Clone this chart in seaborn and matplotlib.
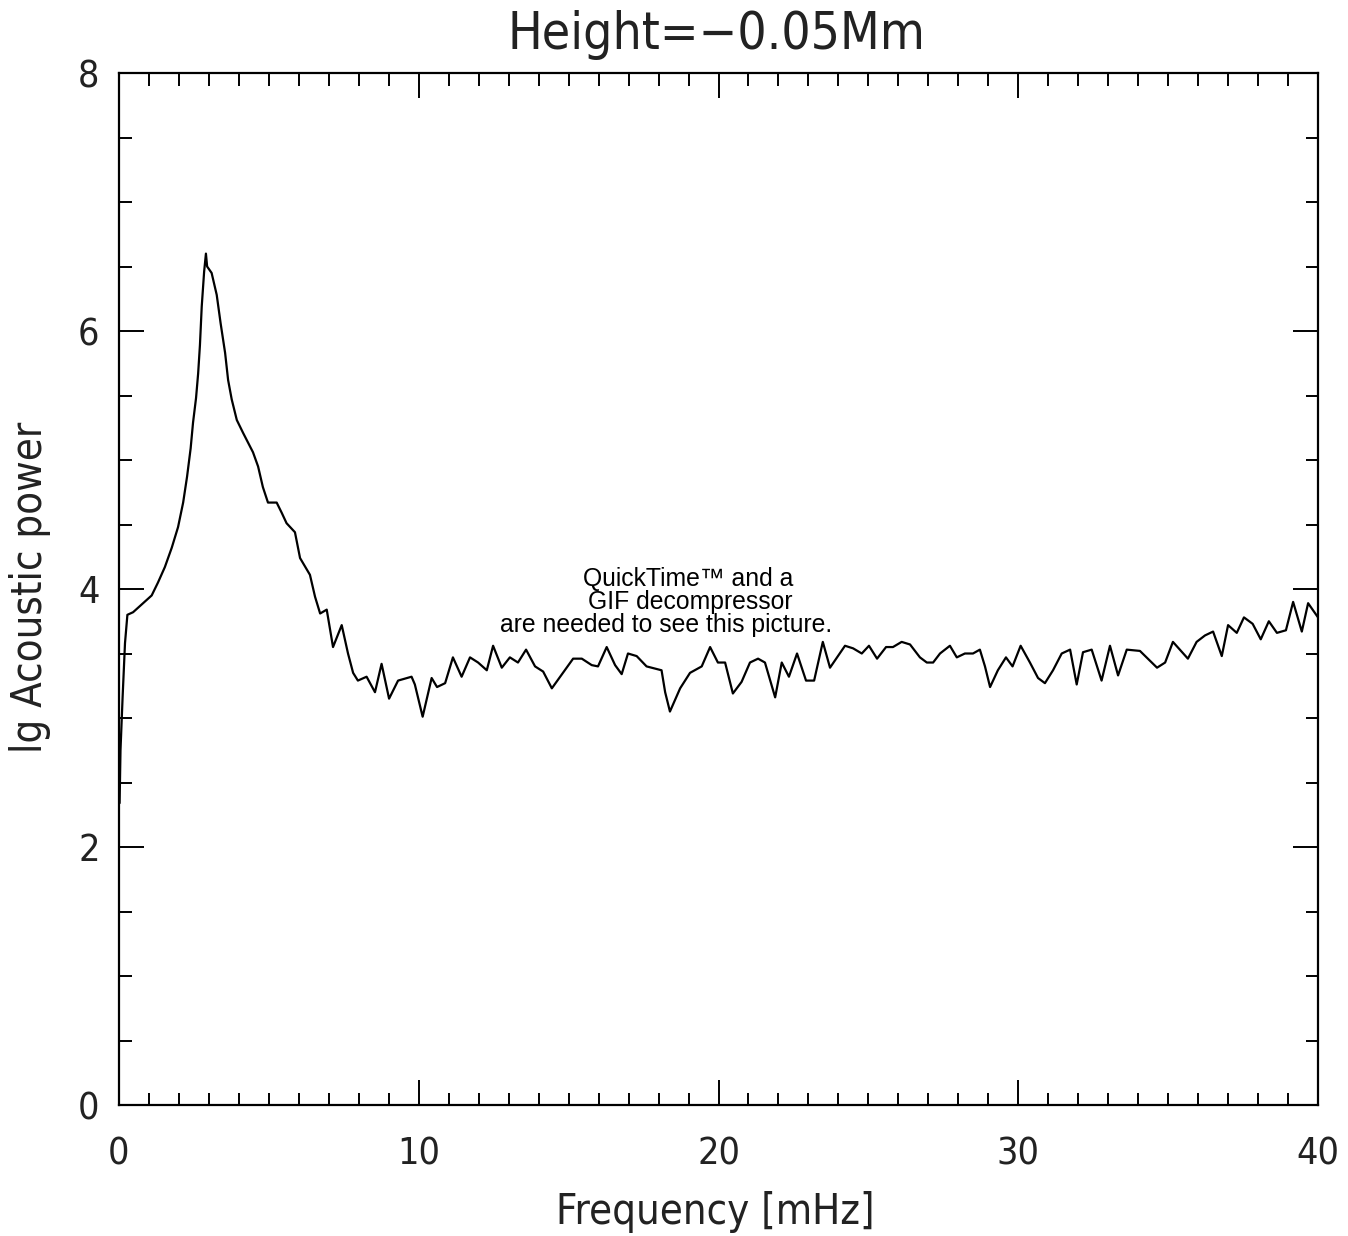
import matplotlib
matplotlib.use("Agg")
import matplotlib.pyplot as plt
import seaborn as sns
import pandas as pd
from matplotlib.ticker import MultipleLocator

# ---- data ----
freq_mhz = [0.02, 0.05, 0.12, 0.20, 0.28, 0.47, 1.09, 1.30, 1.53, 1.76, 1.97, 2.14, 2.27,
            2.39, 2.47, 2.57, 2.64, 2.70, 2.76, 2.84, 2.90, 2.94, 3.09, 3.26, 3.39, 3.54,
            3.64, 3.76, 3.93, 4.14, 4.47, 4.64, 4.80, 4.97, 5.26, 5.43, 5.59, 5.87, 6.04,
            6.37, 6.54, 6.71, 6.93, 7.14, 7.43, 7.64, 7.81, 7.97, 8.26, 8.54, 8.76, 9.01,
            9.31, 9.76, 9.87, 10.13, 10.43, 10.61, 10.88, 11.14, 11.43, 11.71, 11.98, 12.27,
            12.48, 12.77, 13.04, 13.31, 13.58, 13.88, 14.15, 14.44, 14.81, 15.15, 15.44,
            15.77, 15.98, 16.27, 16.55, 16.77, 16.98, 17.27, 17.60, 18.10, 18.22, 18.38,
            18.72, 19.05, 19.44, 19.72, 19.98, 20.22, 20.48, 20.77, 21.05, 21.32, 21.55,
            21.89, 22.11, 22.35, 22.62, 22.92, 23.19, 23.48, 23.72, 24.22, 24.49, 24.78,
            25.02, 25.29, 25.59, 25.82, 26.11, 26.39, 26.72, 26.95, 27.16, 27.39, 27.72,
            27.95, 28.22, 28.49, 28.72, 28.89, 29.06, 29.32, 29.59, 29.81, 30.08, 30.39,
            30.66, 30.89, 31.16, 31.45, 31.73, 31.95, 32.16, 32.45, 32.78, 33.06, 33.33,
            33.62, 34.06, 34.63, 34.90, 35.16, 35.66, 35.95, 36.23, 36.50, 36.79, 37.00,
            37.29, 37.53, 37.82, 38.09, 38.36, 38.63, 38.93, 39.17, 39.46, 39.67, 40.00]
lg_power = [2.34, 2.75, 3.16, 3.58, 3.80, 3.82, 3.95, 4.05, 4.17, 4.32, 4.48, 4.67, 4.87,
            5.09, 5.29, 5.48, 5.67, 5.89, 6.19, 6.46, 6.60, 6.50, 6.45, 6.28, 6.06, 5.83,
            5.62, 5.47, 5.31, 5.21, 5.06, 4.95, 4.79, 4.67, 4.67, 4.59, 4.51, 4.44, 4.24,
            4.11, 3.94, 3.81, 3.84, 3.55, 3.72, 3.50, 3.35, 3.29, 3.32, 3.20, 3.42, 3.15,
            3.29, 3.32, 3.26, 3.01, 3.31, 3.24, 3.27, 3.47, 3.32, 3.47, 3.43, 3.37,
            3.56, 3.39, 3.47, 3.43, 3.53, 3.40, 3.36, 3.23, 3.35, 3.46, 3.46,
            3.41, 3.40, 3.55, 3.41, 3.34, 3.50, 3.48, 3.40, 3.37, 3.20, 3.05,
            3.23, 3.35, 3.40, 3.55, 3.43, 3.43, 3.19, 3.28, 3.43, 3.46, 3.43,
            3.16, 3.43, 3.32, 3.50, 3.29, 3.29, 3.59, 3.39, 3.56, 3.54, 3.50,
            3.56, 3.46, 3.55, 3.55, 3.59, 3.57, 3.47, 3.43, 3.43, 3.50, 3.56,
            3.47, 3.50, 3.50, 3.53, 3.40, 3.24, 3.37, 3.47, 3.40, 3.56, 3.43,
            3.31, 3.27, 3.37, 3.50, 3.53, 3.26, 3.51, 3.53, 3.29, 3.56, 3.33,
            3.53, 3.52, 3.39, 3.43, 3.59, 3.46, 3.59, 3.64, 3.67, 3.48, 3.72,
            3.66, 3.78, 3.73, 3.61, 3.75, 3.66, 3.68, 3.90, 3.67, 3.89, 3.78]

title_text = "Height=\u22120.05Mm"
x_label = "Frequency [mHz]"
y_label = "lg Acoustic power"
x_major = [0, 10, 20, 30, 40]
y_major = [0, 2, 4, 6, 8]
overlay_lines = ["QuickTime\u2122 and a", "GIF decompressor", "are needed to see this picture."]

df = pd.DataFrame({"freq": freq_mhz, "power": lg_power})

sns.set_style("white")
plt.rcParams["font.family"] = ["DejaVu Sans"]

fig = plt.figure(figsize=(13.48, 12.36), dpi=100)
ax = fig.add_axes([119 / 1348, 1 - 1105 / 1236, (1318 - 119) / 1348, (1105 - 73) / 1236])

sns.lineplot(data=df, x="freq", y="power", ax=ax, color="black", linewidth=1.6,
             sort=False, estimator=None)

ax.set_xlim(0, 40)
ax.set_ylim(0, 8)
ax.set_xticks(x_major)
ax.set_yticks(y_major)
ax.xaxis.set_minor_locator(MultipleLocator(1))
ax.yaxis.set_minor_locator(MultipleLocator(0.5))

for s in ax.spines.values():
    s.set_visible(True)
    s.set_color("black")
    s.set_linewidth(1.6)

lab_font = dict(family="DejaVu Sans", fontstretch="condensed", fontweight="light")
ax.tick_params(which="both", direction="in", top=True, right=True, bottom=True, left=True,
               color="black", width=1.4)
ax.tick_params(which="major", length=18)
ax.tick_params(which="minor", length=9)
ax.tick_params(axis="x", which="major", pad=23, labelsize=27)
ax.tick_params(axis="y", which="major", pad=14, labelsize=27)
for lbl in ax.get_xticklabels() + ax.get_yticklabels():
    lbl.set_fontstretch("condensed")
    lbl.set_fontweight("light")
    lbl.set_color("#222222")

ax.set_xlabel("")
ax.set_ylabel("")
fig.text(715 / 1348, 1 - 1212 / 1236, x_label, ha="center", va="center", fontsize=30,
         color="#222222", **lab_font)
fig.text(30 / 1348, 1 - 587 / 1236, y_label, ha="center", va="center", rotation=90,
         fontsize=30, color="#222222", **lab_font)
fig.text(716 / 1348, 1 - 35 / 1236, title_text, ha="center", va="center", fontsize=37,
         color="#222222", **lab_font)

overlay_x = [688, 690, 666]
overlay_y = [579, 602, 625]
for t, xx, yy in zip(overlay_lines, overlay_x, overlay_y):
    fig.text(xx / 1348, 1 - yy / 1236, t, ha="center", va="center", fontsize=17.8,
             family=["Liberation Sans", "DejaVu Sans"], color="black")

ax.grid(False)
fig.savefig("out.png", dpi=100, facecolor="white")
